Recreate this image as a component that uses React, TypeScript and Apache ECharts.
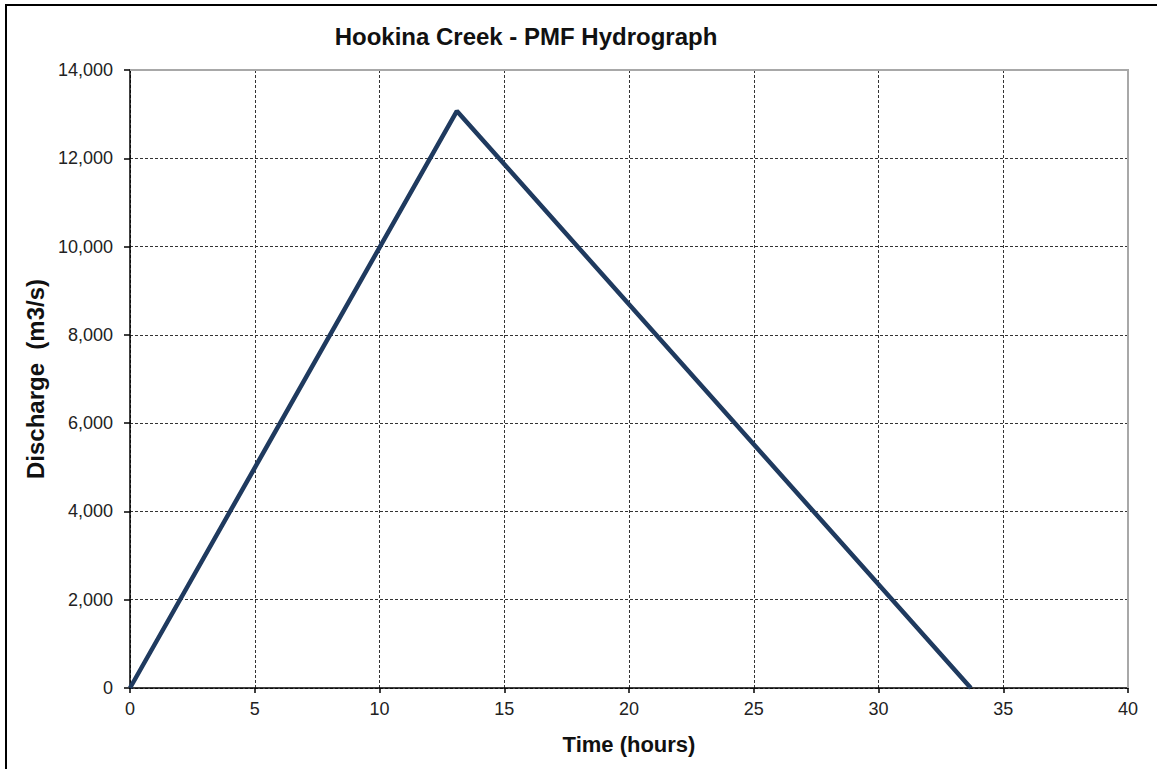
import React, { useEffect, useRef } from "react";
import * as echarts from "echarts";

const timeHours = [0, 13.1, 33.7];
const dischargeM3s = [0, 13070, 0];
const xTicks = [0, 5, 10, 15, 20, 25, 30, 35, 40];
const yTicks = [0, 2000, 4000, 6000, 8000, 10000, 12000, 14000];
const titleText = "Hookina Creek - PMF Hydrograph";
const xName = "Time (hours)";
const yName = "Discharge  (m3/s)";

const GRID = { left: 130, top: 70, width: 998, height: 618 };

export default function App() {
  const ref = useRef<HTMLDivElement>(null);
  useEffect(() => {
    if (!ref.current) return;
    const chart = echarts.init(ref.current, undefined, { renderer: "svg" });
    const font = "'Liberation Sans', Arial, sans-serif";
    const data = timeHours.map((t, i) => [t, dischargeM3s[i]]);
    chart.setOption({
      animation: false,
      backgroundColor: "#ffffff",
      textStyle: { fontFamily: font },
      title: {
        text: titleText,
        left: 521,
        top: 19,
        textAlign: "center",
        textStyle: { fontFamily: font, fontSize: 24, fontWeight: "bold", color: "#111" },
      },
      grid: { ...GRID, containLabel: false },
      xAxis: {
        type: "value",
        min: xTicks[0],
        max: xTicks[xTicks.length - 1],
        interval: 5,
        name: xName,
        nameLocation: "middle",
        nameGap: 45,
        nameTextStyle: { fontFamily: font, fontSize: 22, fontWeight: "bold", color: "#111" },
        axisLine: { show: true, onZero: false, lineStyle: { color: "#000", width: 1.5 } },
        axisTick: { show: true, inside: false, length: 5, lineStyle: { color: "#000", width: 1.5 } },
        axisLabel: { margin: 12, fontSize: 18, color: "#222", fontFamily: font },
        splitLine: { show: true, lineStyle: { color: "#333", type: [3, 2], width: 1 } },
      },
      yAxis: {
        type: "value",
        min: yTicks[0],
        max: yTicks[yTicks.length - 1],
        interval: 2000,
        name: yName,
        nameLocation: "middle",
        nameGap: 54,
        nameRotate: 90,
        nameTextStyle: { fontFamily: font, fontSize: 24, fontWeight: "bold", color: "#111" },
        axisLine: { show: true, lineStyle: { color: "#000", width: 1.5 } },
        axisTick: { show: true, inside: false, length: 6, lineStyle: { color: "#000", width: 1.5 } },
        axisLabel: {
          margin: 17,
          fontSize: 18,
          color: "#222",
          fontFamily: font,
          formatter: (v: number) => v.toLocaleString("en-US"),
        },
        splitLine: { show: true, lineStyle: { color: "#333", type: [3, 2], width: 1 } },
      },
      graphic: [
        {
          type: "rect",
          shape: { x: 6, y: 5, width: 1170, height: 800 },
          style: { fill: "none", stroke: "#000", lineWidth: 2 },
          z: 100,
          silent: true,
        },
        {
          type: "polyline",
          shape: {
            points: [
              [GRID.left, GRID.top],
              [GRID.left + GRID.width, GRID.top],
              [GRID.left + GRID.width, GRID.top + GRID.height],
            ],
          },
          style: { fill: "none", stroke: "#a8a8a8", lineWidth: 2 },
          z: 5,
          silent: true,
        },
      ],
      series: [
        {
          type: "line",
          data,
          showSymbol: false,
          symbol: "none",
          lineStyle: { color: "#1f3a5f", width: 4.5 },
          z: 10,
        },
      ],
    });
    return () => chart.dispose();
  }, []);
  return (
    <div
      ref={ref}
      style={{ position: "absolute", left: 0, top: 0, width: 1157, height: 769 }}
    />
  );
}
